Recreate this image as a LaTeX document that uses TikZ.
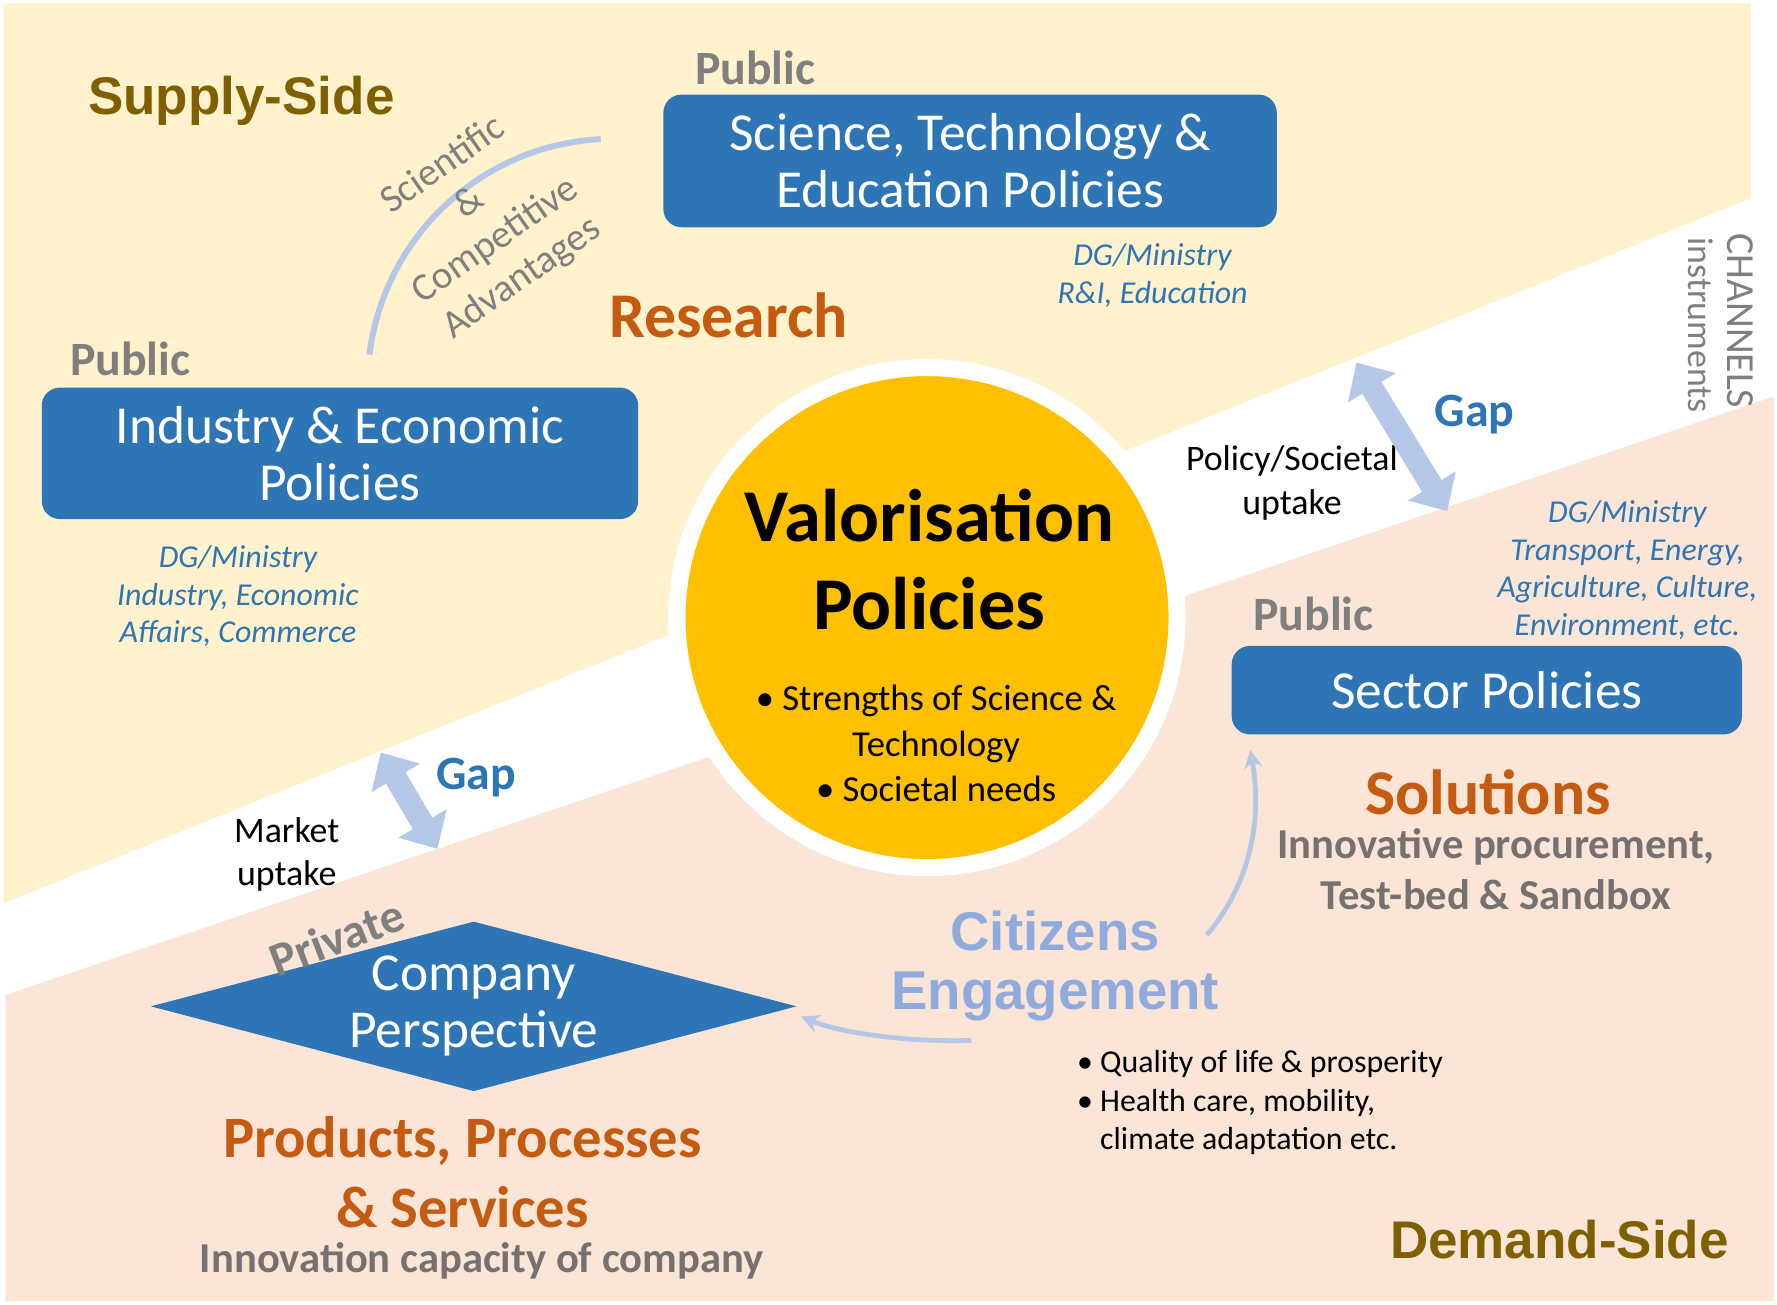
\documentclass[tikz,border=0pt]{standalone}
\usepackage{fontspec}
\setmainfont{Carlito}
\newfontfamily\arialfont{Liberation Sans}
\usetikzlibrary{arrows.meta, positioning, shapes.geometric}
\definecolor{supplybg}{HTML}{FFF2CC}
\definecolor{demandbg}{HTML}{FBE5D6}
\definecolor{policyblue}{HTML}{2E75B6}
\definecolor{valorgold}{HTML}{FFC000}
\definecolor{sideolive}{HTML}{7F6000}
\definecolor{outcomeorange}{HTML}{C55A11}
\definecolor{labelgray}{HTML}{7F7F7F}
\definecolor{subgray}{HTML}{767171}
\definecolor{flowblue}{HTML}{B4C7E7}
\definecolor{citizenblue}{HTML}{8FAADC}
\tikzset{
policy/.style={rectangle, rounded corners=0.16cm, fill=policyblue, text=white, align=center, inner sep=0pt, font=\fontsize{13.4}{14.3}\selectfont}, % blue policy boxes
public/.style={text=labelgray, inner sep=0pt, font=\fontsize{12}{14}\selectfont\bfseries}, % public / private tags
ministry/.style={text=policyblue, align=center, font=\fontsize{8}{9.4}\selectfont\itshape}, % DG/Ministry notes
outcome/.style={text=outcomeorange, align=center, font=\fontsize{16}{17.6}\selectfont\bfseries},
means/.style={text=subgray, align=center, font=\fontsize{10.7}{12.8}\selectfont\bfseries},
side/.style={text=sideolive, font=\arialfont\fontsize{13.3}{15}\selectfont\bfseries}, % supply and demand side
citizen/.style={text=citizenblue, align=center, font=\arialfont\fontsize{13.7}{14.8}\selectfont\bfseries},
uptake/.style={align=center, font=\fontsize{9}{11}\selectfont},
gaplabel/.style={text=policyblue, font=\fontsize{12}{14}\selectfont\bfseries},
gaparrow/.style={draw=flowblue, line width=0.2cm, {Triangle[width=0.48cm,length=0.26cm]}-{Triangle[width=0.48cm,length=0.26cm]}}, % fat double arrows over the gaps
flow/.style={draw=flowblue, line width=1.2pt}, % thin curved links
}
\begin{document}
\begin{tikzpicture}[x=0.01cm, y=0.01cm]
  \path[use as bounding box, fill=white] (0,0) rectangle (1568,1151);
  % the two sides
  \fill[supplybg] (3,354) -- (3,1148) -- (1545,1148) -- (1545,976) -- cycle;
  \fill[demandbg] (5,273) -- (1565,801) -- (1565,3) -- (5,3) -- cycle;

  \node[circle, fill=valorgold, draw=white, line width=0.15cm, minimum size=4.41cm, inner sep=0pt] (valor) at (818,606) {};
  \node[align=center, font=\fontsize{18.7}{22}\selectfont\bfseries] (valortitle) at (820,657) {Valorisation\\Policies};
  \node[align=center, font=\fontsize{9.2}{11.4}\selectfont] (strengths) at (826,495) {\textbullet\ Strengths of Science \&\\Technology\\\textbullet\ Societal needs};

  \node[policy, minimum width=5.41cm, minimum height=1.17cm] (sci) at (856,1009) {Science, Technology \&\\Education Policies};
  \node[policy, minimum width=5.26cm, minimum height=1.16cm] (ind) at (300,751) {Industry \& Economic\\Policies};
  \node[policy, minimum width=4.5cm, minimum height=0.78cm] (sector) at (1312,542) {Sector Policies};
  \node[diamond, fill=policyblue, minimum width=5.7cm, minimum height=1.5cm, inner sep=0pt] (company) at (418,263) {};
  \node[policy, fill=none] (companytext) at (company) {Company\\Perspective};

  \node[public, above right=0.07cm and 0.28cm of sci.north west] (scipub) {Public};
  \node[public, above right=0.09cm and 0.25cm of ind.north west] (indpub) {Public};
  \node[public, above right=0.12cm and 0.19cm of sector.north west] (sectorpub) {Public};
  \node[public, rotate=21] (private) at (297,324) {Private};

  \node[ministry] (scimin) at (1017,908) {DG/Ministry\\R\&I, Education};
  \node[ministry] (indmin) at (210,625) {DG/Ministry\\Industry, Economic\\Affairs, Commerce};
  \node[ministry] (sectormin) at (1436,648) {DG/Ministry\\Transport, Energy,\\Agriculture, Culture,\\Environment, etc.};

  \node[side] (supply) at (213,1062) {Supply-Side};
  \node[side] (demand) at (1376,57) {Demand-Side};
  \node[outcome] (research) at (643,873) {Research};
  \node[outcome] (solutions) at (1313,452) {Solutions};
  \node[means] (solmeans) at (1320,384) {Innovative procurement,\\Test-bed \& Sandbox};
  \node[outcome, font=\fontsize{14.7}{17.6}\selectfont\bfseries] (products) at (408,117) {Products, Processes\\\& Services};
  \node[means] (capacity) at (425,38) {Innovation capacity of company};
  \node[citizen] (citizens) at (931,299) {Citizens\\Engagement};
  \node[anchor=west, align=left, font=\fontsize{8}{9.7}\selectfont] (needs) at (938,178) {\textbullet\ Quality of life \& prosperity\\\textbullet\ Health care, mobility,\\\hphantom{\textbullet\ }climate adaptation etc.};

  \node[uptake] (market) at (253,397) {Market\\uptake};
  \node[uptake] (societal) at (1140,725) {Policy/Societal\\uptake};
  \node[gaplabel] (gapleft) at (420,465) {Gap};
  \node[gaplabel] (gapright) at (1301,785) {Gap};
  \node[rotate=-90, text=labelgray, font=\fontsize{10}{12}\selectfont] (channels) at (1536,868) {CHANNELS};
  \node[rotate=-90, text=labelgray, font=\fontsize{9}{11}\selectfont] (instruments) at (1501,864) {instruments};

  % gaps
  \coordinate (lefttop) at (336,487);
  \coordinate (leftbot) at (386,402);
  \coordinate (righttop) at (1197,831);
  \coordinate (rightbot) at (1277,700);
  \draw[gaparrow] (lefttop) -- (leftbot);
  \draw[gaparrow] (righttop) -- (rightbot);

  % advantages arc
  \coordinate (arcfoot) at (326,838);
  \draw[flow, line width=1.5pt] (arcfoot) arc[start angle=173, end angle=93, radius=217];
  \node[rotate=35, align=center, text=labelgray, font=\fontsize{9.8}{11.5}\selectfont] (advantages) at (426,955) {Scientific\\\&\\Competitive\\Advantages};

  % citizens links
  \coordinate (citizenup) at (1065,326);
  \coordinate (citizenleft) at (857,233);
  \draw[flow, -{Stealth[length=0.16cm,width=0.16cm]}] (citizenup) .. controls (1110,380) and (1112,440) .. ([shift={(17,-13)}]sector.south west);
  \draw[flow, -{Stealth[length=0.16cm,width=0.16cm]}] (citizenleft) .. controls (800,231) and (740,240) .. ([shift={(3,-9)}]company.east);
\end{tikzpicture}
\end{document}
